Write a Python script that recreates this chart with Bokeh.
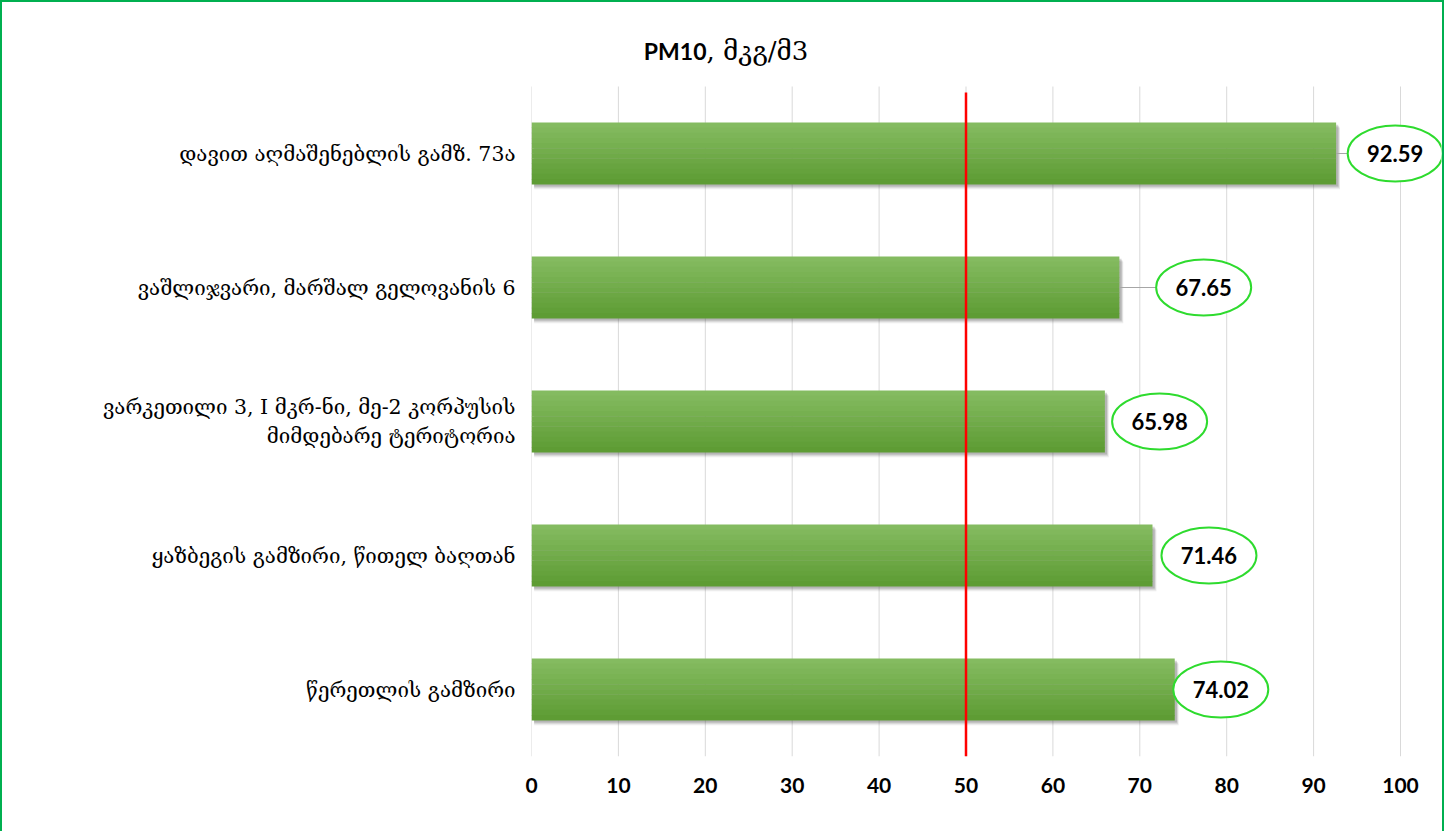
from bokeh.plotting import figure
from bokeh.models import Range1d, ColumnDataSource, FixedTicker
from bokeh.core.properties import value
from bokeh.embed import file_html
from bokeh.resources import INLINE

# ---- data ----
categories = [
    "დავით აღმაშენებლის გამზ. 73ა",
    "ვაშლიჯვარი, მარშალ გელოვანის 6",
    "ვარკეთილი 3, I მკრ-ნი, მე-2 კორპუსის\nმიმდებარე ტერიტორია",
    "ყაზბეგის გამზირი, წითელ ბაღთან",
    "წერეთლის გამზირი",
]
pm10 = [92.59, 67.65, 65.98, 71.46, 74.02]
limit = 50
x_ticks = [0, 10, 20, 30, 40, 50, 60, 70, 80, 90, 100]
title_bold = "PM10"
title_rest = ", მკგ/მ3"

# ---- layout / style ----
label_shift = [6.8, 9.7, 6.3, 6.5, 5.3]   # label centre offset from bar end (x units)
ell_w, ell_h = 95, 56
px_per_unit = 8.69
cat_px = 134.0
NUM_FONT = "Lato"
GEO_FONT = "DejaVu Serif"

n_cat = len(categories)
ypos = [n_cat - 1 - i for i in range(n_cat)]      # first category on top
frame_w = 910
frame_h = 737
x_end = frame_w / px_per_unit
y_lo = -0.5
y_hi = y_lo + frame_h / cat_px

CW, CH = 1440, 829
p = figure(width=CW, height=CH, frame_width=frame_w, frame_height=frame_h,
           x_range=Range1d(0, x_end), y_range=Range1d(y_lo, y_hi),
           output_backend="svg", toolbar_location=None,
           min_border_left=529, min_border_right=1,
           min_border_top=17, min_border_bottom=75,
           styles={"border-top": "2px solid #00B050",
                   "border-left": "2px solid #00B050",
                   "border-right": "2px solid #00B050"})
p.outline_line_color = None
p.background_fill_color = "white"
p.border_fill_color = "white"

lx = [v + s for v, s in zip(pm10, label_shift)]
src = ColumnDataSource(dict(y=ypos, v=pm10, lx=lx,
                            lbl=[f"{v:.2f}" for v in pm10]))

# grid lines (vertical) across category area only
p.segment(x0=x_ticks, x1=x_ticks, y0=[y_lo] * len(x_ticks),
          y1=[n_cat - 0.5] * len(x_ticks), line_color="#D9D9D9", line_width=1)

bar_h = 0.46
# shadow
for dy, dx, a in [(-0.036, 0.45, 0.10), (-0.026, 0.35, 0.15), (-0.016, 0.25, 0.2)]:
    p.hbar(y=[y + dy for y in ypos], left=0.3, right=[v + dx for v in pm10],
           height=bar_h, fill_color="#404040", fill_alpha=a, line_color=None)

# gradient bar in strips
top_c = (0x84, 0xBB, 0x60)
bot_c = (0x5E, 0x9C, 0x34)
n = 12
for i in range(n):
    t = i / (n - 1)
    c = tuple(round(top_c[j] + (bot_c[j] - top_c[j]) * t) for j in range(3))
    col = "#%02x%02x%02x" % c
    off = bar_h / 2 - (i + 0.5) * bar_h / n
    p.hbar(y=[y + off for y in ypos], left=0, right=pm10,
           height=bar_h / n * 1.08, fill_color=col, line_color=None)

# leader lines
half = (ell_w / 2) / px_per_unit
for y, v, x in zip(ypos, pm10, lx):
    if x - half - v > 1.2:
        p.segment(x0=[v], y0=[y], x1=[x - half], y1=[y], line_color="#A6A6A6", line_width=1)

# limit line
p.segment(x0=[limit], y0=[y_lo], x1=[limit], y1=[n_cat - 0.5 - 6 / cat_px],
          line_color="#FF0000", line_width=2.5)

# data labels
p.ellipse(x="lx", y="y", width=ell_w, height=ell_h, width_units="screen",
          height_units="screen", source=src, fill_color="white",
          line_color="#2EDB2E", line_width=2)
p.text(x="lx", y="y", text="lbl", source=src, text_align="center",
       text_baseline="middle", text_font=value(NUM_FONT), text_font_size="22px",
       text_font_style="bold", text_color="#000000")

# title
title_y = (n_cat - 1) + (153 - 50) / cat_px
title_x = (706 - 531) / px_per_unit
p.text(x=[title_x], y=[title_y], text=[title_bold], text_align="right",
       text_baseline="middle", text_font=value(NUM_FONT), text_font_size="23px",
       text_font_style="bold", text_color="#000000")
p.text(x=[title_x], y=[title_y], text=[title_rest], text_align="left",
       text_baseline="middle", text_font=value(GEO_FONT), text_font_size="26px",
       text_color="#000000")

# axes
p.xaxis.ticker = FixedTicker(ticks=x_ticks)
p.xaxis.axis_line_color = None
p.xaxis.major_tick_line_color = None
p.xaxis.minor_tick_line_color = None
p.xaxis.major_label_standoff = 15
p.xaxis.major_label_text_font = NUM_FONT
p.xaxis.major_label_text_font_size = "21px"
p.xaxis.major_label_text_font_style = "bold"
p.xaxis.major_label_text_color = "#000000"

p.yaxis.ticker = FixedTicker(ticks=ypos)
p.yaxis.major_label_overrides = {y: c for y, c in zip(ypos, categories)}
p.yaxis.axis_line_color = None
p.yaxis.major_tick_line_color = None
p.yaxis.minor_tick_line_color = None
p.yaxis.major_label_standoff = 10
p.yaxis.major_label_text_font = GEO_FONT
p.yaxis.major_label_text_font_size = "20.5px"
p.yaxis.major_label_text_color = "#000000"

p.xgrid.grid_line_color = None
p.ygrid.grid_line_color = None

open("out.html", "w").write(file_html(p, INLINE))
